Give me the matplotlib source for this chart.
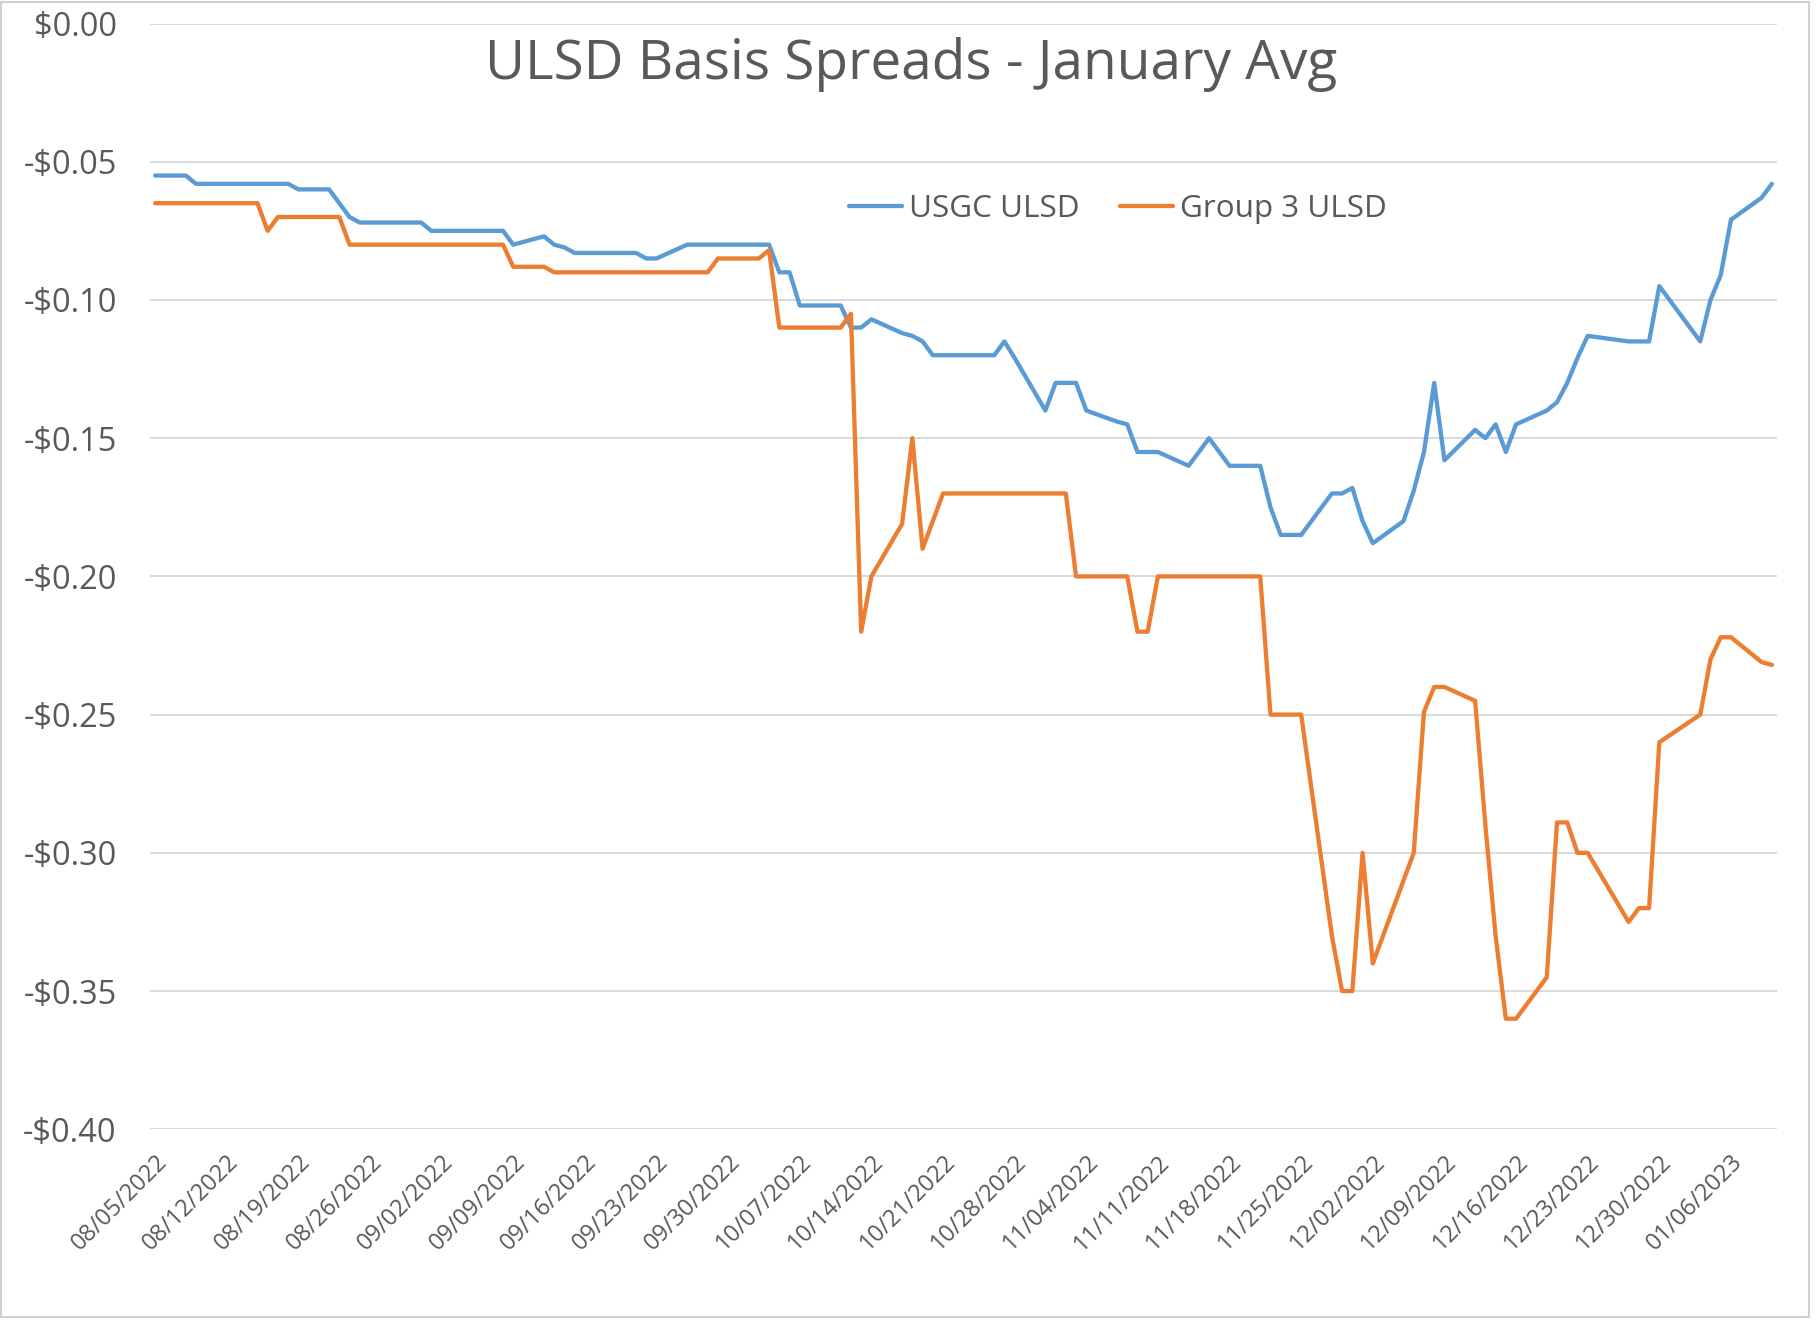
import matplotlib
matplotlib.use("Agg")
import matplotlib.pyplot as plt
from matplotlib.patches import Rectangle
from matplotlib.transforms import ScaledTranslation
import pandas as pd

# ---- data -------------------------------------------------------------
dates = [
    "2022-08-05", "2022-08-08", "2022-08-09", "2022-08-10", "2022-08-11", "2022-08-12",
    "2022-08-15", "2022-08-16", "2022-08-17", "2022-08-18", "2022-08-19",
    "2022-08-22", "2022-08-23", "2022-08-24", "2022-08-25", "2022-08-26",
    "2022-08-29", "2022-08-30", "2022-08-31", "2022-09-01", "2022-09-02",
    "2022-09-06", "2022-09-07", "2022-09-08", "2022-09-09",
    "2022-09-12", "2022-09-13", "2022-09-14", "2022-09-15", "2022-09-16",
    "2022-09-19", "2022-09-20", "2022-09-21", "2022-09-22", "2022-09-23",
    "2022-09-26", "2022-09-27", "2022-09-28", "2022-09-29", "2022-09-30",
    "2022-10-03", "2022-10-04", "2022-10-05", "2022-10-06", "2022-10-07",
    "2022-10-10", "2022-10-11", "2022-10-12", "2022-10-13", "2022-10-14",
    "2022-10-17", "2022-10-18", "2022-10-19", "2022-10-20", "2022-10-21",
    "2022-10-24", "2022-10-25", "2022-10-26", "2022-10-27", "2022-10-28",
    "2022-10-31", "2022-11-01", "2022-11-02", "2022-11-03", "2022-11-04",
    "2022-11-07", "2022-11-08", "2022-11-09", "2022-11-10", "2022-11-11",
    "2022-11-14", "2022-11-15", "2022-11-16", "2022-11-17", "2022-11-18",
    "2022-11-21", "2022-11-22", "2022-11-23", "2022-11-25",
    "2022-11-28", "2022-11-29", "2022-11-30", "2022-12-01", "2022-12-02",
    "2022-12-05", "2022-12-06", "2022-12-07", "2022-12-08", "2022-12-09",
    "2022-12-12", "2022-12-13", "2022-12-14", "2022-12-15", "2022-12-16",
    "2022-12-19", "2022-12-20", "2022-12-21", "2022-12-22", "2022-12-23",
    "2022-12-27", "2022-12-28", "2022-12-29", "2022-12-30",
    "2023-01-03", "2023-01-04", "2023-01-05", "2023-01-06",
    "2023-01-09", "2023-01-10",
]

usgc_ulsd = [
    -0.055, -0.055, -0.058, -0.058, -0.058, -0.058,
    -0.058, -0.058, -0.058, -0.058, -0.060,
    -0.060, -0.065, -0.070, -0.072, -0.072,
    -0.072, -0.072, -0.072, -0.075, -0.075,
    -0.075, -0.075, -0.075, -0.080,
    -0.077, -0.080, -0.081, -0.083, -0.083,
    -0.083, -0.083, -0.083, -0.085, -0.085,
    -0.080, -0.080, -0.080, -0.080, -0.080,
    -0.080, -0.080, -0.090, -0.090, -0.102,
    -0.102, -0.102, -0.110, -0.110, -0.107,
    -0.112, -0.113, -0.115, -0.120, -0.120,
    -0.120, -0.120, -0.120, -0.115, -0.121,
    -0.140, -0.130, -0.130, -0.130, -0.140,
    -0.144, -0.145, -0.155, -0.155, -0.155,
    -0.160, -0.155, -0.150, -0.155, -0.160,
    -0.160, -0.175, -0.185, -0.185,
    -0.170, -0.170, -0.168, -0.180, -0.188,
    -0.180, -0.169, -0.155, -0.130, -0.158,
    -0.147, -0.150, -0.145, -0.155, -0.145,
    -0.140, -0.137, -0.130, -0.121, -0.113,
    -0.115, -0.115, -0.115, -0.095,
    -0.115, -0.100, -0.091, -0.071,
    -0.063, -0.058,
]

group3_ulsd = [
    -0.065, -0.065, -0.065, -0.065, -0.065, -0.065,
    -0.065, -0.075, -0.070, -0.070, -0.070,
    -0.070, -0.070, -0.080, -0.080, -0.080,
    -0.080, -0.080, -0.080, -0.080, -0.080,
    -0.080, -0.080, -0.080, -0.088,
    -0.088, -0.090, -0.090, -0.090, -0.090,
    -0.090, -0.090, -0.090, -0.090, -0.090,
    -0.090, -0.090, -0.090, -0.085, -0.085,
    -0.085, -0.082, -0.110, -0.110, -0.110,
    -0.110, -0.110, -0.105, -0.220, -0.200,
    -0.181, -0.150, -0.190, -0.180, -0.170,
    -0.170, -0.170, -0.170, -0.170, -0.170,
    -0.170, -0.170, -0.170, -0.200, -0.200,
    -0.200, -0.200, -0.220, -0.220, -0.200,
    -0.200, -0.200, -0.200, -0.200, -0.200,
    -0.200, -0.250, -0.250, -0.250,
    -0.330, -0.350, -0.350, -0.300, -0.340,
    -0.310, -0.300, -0.249, -0.240, -0.240,
    -0.245, -0.290, -0.330, -0.360, -0.360,
    -0.345, -0.289, -0.289, -0.300, -0.300,
    -0.325, -0.320, -0.320, -0.260,
    -0.250, -0.230, -0.222, -0.222,
    -0.231, -0.232,
]

series_names = ["USGC ULSD", "Group 3 ULSD"]
title = "ULSD Basis Spreads - January Avg"
tick_dates = pd.date_range("2022-08-05", "2023-01-06", freq="7D")
y_ticks = [0.0, -0.05, -0.10, -0.15, -0.20, -0.25, -0.30, -0.35, -0.40]

# ---- style ------------------------------------------------------------
FONT = ["Open Sans", "DejaVu Sans"]
plt.rcParams["font.family"] = FONT
TXT = "#595959"
BLUE = "#5B9BD5"
ORANGE = "#ED7D31"
GRID = "#D9D9D9"

W, H, DPI = 1816, 1320, 100
fig = plt.figure(figsize=(W / DPI, H / DPI), dpi=DPI)
fig.patch.set_facecolor("white")

left, right = 150 / W, 1777 / W
top, bottom = 1 - 23.5 / H, 1 - 1129.3 / H
ax = fig.add_axes([left, bottom, right - left, top - bottom])

x = pd.to_datetime(dates)
ax.plot(x, usgc_ulsd, color=BLUE, lw=3.1, label=series_names[0],
        solid_joinstyle="round", solid_capstyle="round", zorder=3)
ax.plot(x, group3_ulsd, color=ORANGE, lw=3.1, label=series_names[1],
        solid_joinstyle="round", solid_capstyle="round", zorder=3)

ax.set_ylim(-0.40, 0.0)
ax.set_yticks(y_ticks)
ax.set_yticklabels([("-" if v < 0 else "") + "${:.2f}".format(abs(v)) for v in y_ticks])
ax.set_xlim(pd.Timestamp("2022-08-05") - pd.Timedelta(hours=12),
            pd.Timestamp("2023-01-10") + pd.Timedelta(hours=12))
ax.set_xticks(tick_dates)
ax.set_xticklabels([d.strftime("%m/%d/%Y") for d in tick_dates],
                   rotation=45, ha="right", rotation_mode="anchor")

ax.grid(axis="y", color=GRID, lw=1.4)
ax.set_axisbelow(True)
for s in ax.spines.values():
    s.set_visible(False)
ax.tick_params(axis="both", length=0, colors=TXT)
ax.tick_params(axis="y", labelsize=23.5, pad=24)
ax.tick_params(axis="x", labelsize=17, pad=15)
off = ScaledTranslation(0 / DPI, 0, fig.dpi_scale_trans)
for lab in ax.get_xticklabels():
    lab.set_transform(lab.get_transform() + off)

fig.text(911 / W, 1 - 64 / H, title, ha="center", va="center",
         fontsize=39.5, color=TXT)

leg = fig.legend(loc="center left", bbox_to_anchor=(849 / W, 1 - 209 / H),
                 ncol=2, frameon=False, fontsize=22.6, handlelength=1.7,
                 handletextpad=0.2, columnspacing=1.3, borderpad=0,
                 borderaxespad=0)
for t in leg.get_texts():
    t.set_color(TXT)

fig.patches.append(Rectangle((1 / W, 1 - 1317 / H), 1808 / W, 1315 / H,
                             transform=fig.transFigure, fill=False,
                             edgecolor="#D0D0D0", lw=1.5))

fig.savefig("out.png", dpi=DPI, facecolor="white")
